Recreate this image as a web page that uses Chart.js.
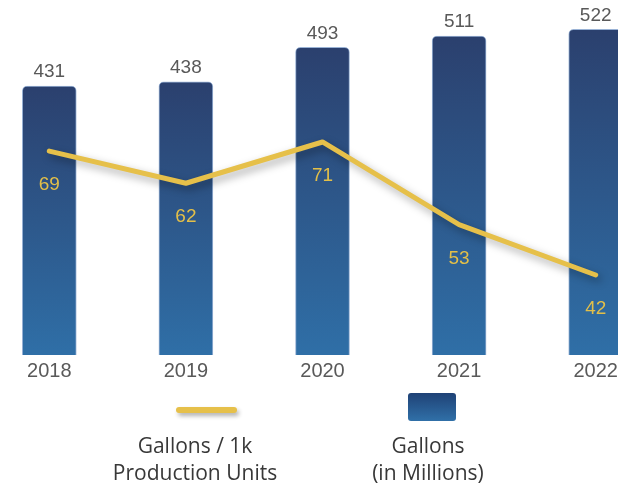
<!DOCTYPE html>
<html>
<head>
<meta charset="utf-8">
<script src="https://cdn.jsdelivr.net/npm/chart.js@4.4.1/dist/chart.umd.min.js"></script>
<style>
  html, body { margin: 0; padding: 0; background: #fff; overflow: hidden; }
  body { width: 618px; height: 485px; position: relative; }
  #wrap { position: absolute; left: -19px; top: 0; width: 683px; height: 485px; }
  .legend-text { position: absolute; width: 220px; text-align: center; font-family: 'Open Sans', sans-serif;
    font-size: 21px; line-height: 27px; color: #383838; }
  #swatchLine { position: absolute; left: 176px; top: 407px; width: 61px; height: 6px; border-radius: 3px;
    background: #e6c04a; box-shadow: 2px 3px 4px rgba(0,0,0,0.3); }
  #swatchBox { position: absolute; left: 408px; top: 393px; width: 48px; height: 28px; border-radius: 3px;
    background: linear-gradient(#1f4276, #3070a8); }
</style>
</head>
<body>
<div id="wrap"><canvas id="chart"></canvas></div>
<div id="swatchLine"></div>
<div id="swatchBox"></div>
<div class="legend-text" style="left:85px; top:432px;">Gallons / 1k<br>Production Units</div>
<div class="legend-text" style="left:318px; top:432px;">Gallons<br>(in Millions)</div>
<script>
const years = ['2018', '2019', '2020', '2021', '2022'];
const gallonsMillions = [431, 438, 493, 511, 522];
const gallonsPer1k = [69, 62, 71, 53, 42];

const fontFamily = "'Liberation Sans', Arial, sans-serif";

// gradient per bar: dark navy at the top, lighter blue at the base
function barGradient(context) {
    const chart = context.chart;
    const area = chart.chartArea;
    if (!area || context.dataIndex === undefined) {
        return '#2e5a90';
    }
    const top = chart.scales.y.getPixelForValue(gallonsMillions[context.dataIndex]);
    const g = chart.ctx.createLinearGradient(0, top, 0, area.bottom);
    g.addColorStop(0, '#2b406e');
    g.addColorStop(1, '#2f6fa7');
    return g;
}

const lineShadow = {
    id: 'lineShadow',
    beforeDatasetDraw(chart, args) {
        if (args.meta.type !== 'line') return;
        const ctx = chart.ctx;
        ctx.save();
        ctx.shadowColor = 'rgba(0, 0, 0, 0.35)';
        ctx.shadowBlur = 8;
        ctx.shadowOffsetX = 3;
        ctx.shadowOffsetY = 4;
    },
    afterDatasetDraw(chart, args) {
        if (args.meta.type !== 'line') return;
        chart.ctx.restore();
    }
};

const valueLabels = {
    id: 'valueLabels',
    afterDatasetsDraw(chart) {
        const ctx = chart.ctx;
        ctx.save();
        ctx.textAlign = 'center';
        ctx.textBaseline = 'middle';
        ctx.font = '19px ' + fontFamily;
        chart.data.datasets.forEach((ds, i) => {
            const meta = chart.getDatasetMeta(i);
            meta.data.forEach((el, j) => {
                if (meta.type === 'bar') {
                    ctx.fillStyle = '#595959';
                    ctx.fillText(ds.data[j], el.x, el.y - 14);
                } else {
                    ctx.fillStyle = '#e3bf48';
                    ctx.fillText(ds.data[j], el.x, el.y + 34);
                }
            });
        });
        ctx.restore();
    }
};

new Chart(document.getElementById('chart'), {
    data: {
        labels: years,
        datasets: [
            {
                type: 'line',
                label: 'Gallons / 1k Production Units',
                data: gallonsPer1k,
                yAxisID: 'y2',
                borderColor: '#e6c04a',
                borderWidth: 5,
                borderCapStyle: 'round',
                borderJoinStyle: 'round',
                pointRadius: 0,
                tension: 0,
                order: 0
            },
            {
                type: 'bar',
                label: 'Gallons (in Millions)',
                data: gallonsMillions,
                yAxisID: 'y',
                backgroundColor: barGradient,
                borderColor: 'rgba(110, 145, 195, 0.7)',
                borderWidth: 1,
                borderSkipped: 'bottom',
                borderRadius: { topLeft: 5, topRight: 5 },
                barThickness: 54,
                order: 1
            }
        ]
    },
    options: {
        responsive: true,
        maintainAspectRatio: false,
        animation: false,
        layout: { padding: { top: 10, bottom: 100, left: 0, right: 0 } },
        plugins: {
            legend: { display: false },
            tooltip: { enabled: false }
        },
        scales: {
            x: {
                grid: { display: false },
                border: { display: false },
                ticks: {
                    color: '#595959',
                    padding: -4,
                    font: { family: fontFamily, size: 20 }
                },
                afterFit(scale) { scale.height = 30; }
            },
            y: { display: false, min: 0, max: 553 },
            y2: { display: false, min: 24.55, max: 99.78 }
        }
    },
    plugins: [lineShadow, valueLabels]
});
</script>
</body>
</html>
